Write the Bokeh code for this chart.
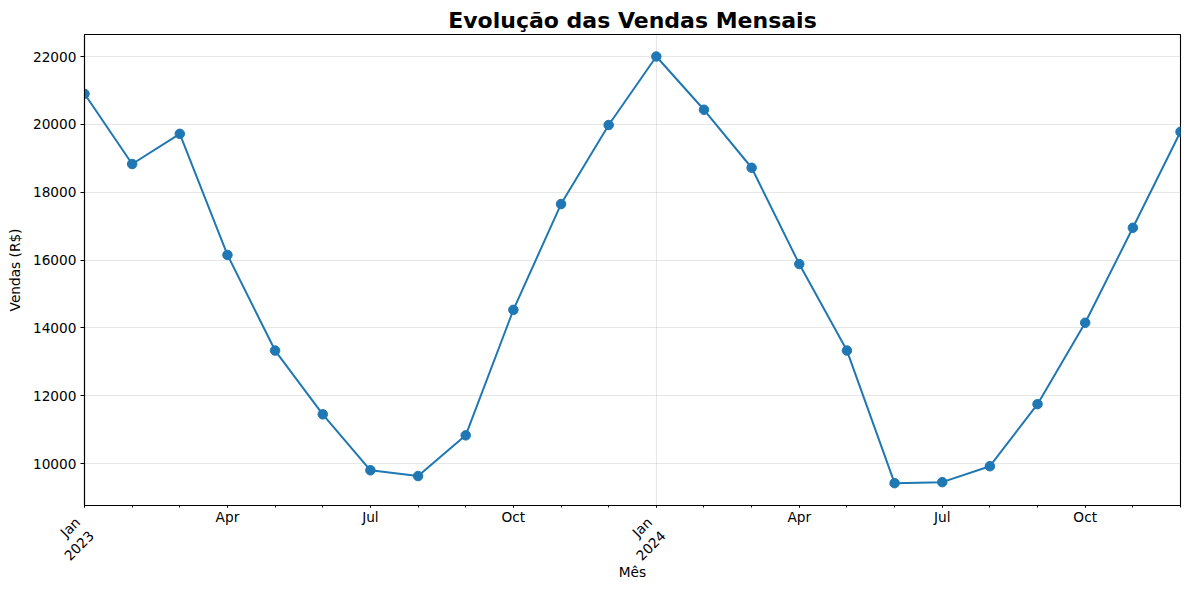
from math import pi
from bokeh.plotting import figure
from bokeh.models import FixedTicker, Range1d, LinearAxis, ColumnDataSource
from bokeh.embed import file_html
from bokeh.resources import INLINE

months = ["2023-01", "2023-02", "2023-03", "2023-04", "2023-05", "2023-06",
          "2023-07", "2023-08", "2023-09", "2023-10", "2023-11", "2023-12",
          "2024-01", "2024-02", "2024-03", "2024-04", "2024-05", "2024-06",
          "2024-07", "2024-08", "2024-09", "2024-10", "2024-11", "2024-12"]
sales = [20900, 18830, 19720, 16150, 13330, 11450, 9800, 9630, 10830, 14530, 17650, 19980,
         22000, 20430, 18720, 15880, 13330, 9420, 9450, 9920, 11750, 14150, 16950, 19780]
quarter_months = ["2023-04", "2023-07", "2023-10", "2024-04", "2024-07", "2024-10"]
quarter_labels = ["Apr", "Jul", "Oct", "Apr", "Jul", "Oct"]
year_months = ["2023-01", "2024-01"]
year_labels = ["Jan\n2023", "Jan\n2024"]
y_ticks = [10000, 12000, 14000, 16000, 18000, 20000, 22000]

FONT = "DejaVu Sans"
x = list(range(len(months)))
src = ColumnDataSource(dict(x=x, y=sales, month=months))

y0, y1 = 8762, 22649
p = figure(width=1189, height=590, x_range=Range1d(0, len(months) - 1),
           y_range=Range1d(y0, y1), output_backend="svg", toolbar_location=None,
           min_border_left=84, min_border_right=9, min_border_top=34, min_border_bottom=85)

p.title.text = "Evolução das Vendas Mensais"
p.title.align = "center"
p.title.text_font = FONT
p.title.text_font_size = "22px"
p.title.text_font_style = "bold"
p.title.text_color = "black"
p.title.standoff = 4

q_idx = [months.index(m) for m in quarter_months]
yr_idx = [months.index(m) for m in year_months]

# axis 1: ticks for every month, horizontal quarter labels
xa = p.xaxis[0]
xa.ticker = FixedTicker(ticks=sorted(q_idx + yr_idx), minor_ticks=x)
overrides = {i: l for i, l in zip(q_idx, quarter_labels)}
overrides.update({i: "" for i in yr_idx})
xa.major_label_overrides = overrides
xa.major_tick_out = 2
xa.major_tick_in = 0
xa.minor_tick_out = 2
xa.minor_tick_in = 0
xa.major_label_standoff = 1

# axis 2: rotated year labels, no line/ticks
xa2 = LinearAxis(ticker=FixedTicker(ticks=yr_idx, minor_ticks=[]),
                 major_label_overrides={i: l for i, l in zip(yr_idx, year_labels)},
                 major_label_orientation=pi / 4,
                 axis_line_color=None, major_tick_line_color=None, minor_tick_line_color=None,
                 major_tick_out=0, major_tick_in=0, minor_tick_out=0, minor_tick_in=0,
                 major_label_standoff=-1, axis_label="Mês", axis_label_standoff=-15)
p.add_layout(xa2, "below")

ya = p.yaxis[0]
ya.ticker = FixedTicker(ticks=y_ticks, minor_ticks=[])
ya.axis_label = "Vendas (R$)"
ya.axis_label_standoff = 7
ya.major_tick_out = 4
ya.major_tick_in = 0
ya.major_label_standoff = 4

for ax in (xa, xa2, ya):
    ax.major_label_text_font = FONT
    ax.major_label_text_font_size = "13.7px"
    ax.major_label_text_color = "black"
    ax.axis_label_text_font = FONT
    ax.axis_label_text_font_size = "13.7px"
    ax.axis_label_text_font_style = "normal"
    ax.axis_label_text_color = "black"
xa.axis_line_color = "black"
ya.axis_line_color = "black"
for ax in (xa, ya):
    ax.axis_line_width = 1.1
    ax.major_tick_line_color = "black"
    ax.minor_tick_line_color = "black"

p.xgrid.ticker = FixedTicker(ticks=yr_idx)
for g in (p.xgrid[0], p.ygrid[0]):
    g.grid_line_color = "#b0b0b0"
    g.grid_line_alpha = 0.3
    g.grid_line_width = 1.1

p.outline_line_color = "black"
p.outline_line_width = 1.1

p.line("x", "y", source=src, line_color="#1f77b4", line_width=2)
p.scatter("x", "y", source=src, size=9.5, color="#1f77b4")

open("out.html", "w").write(file_html(p, INLINE))
